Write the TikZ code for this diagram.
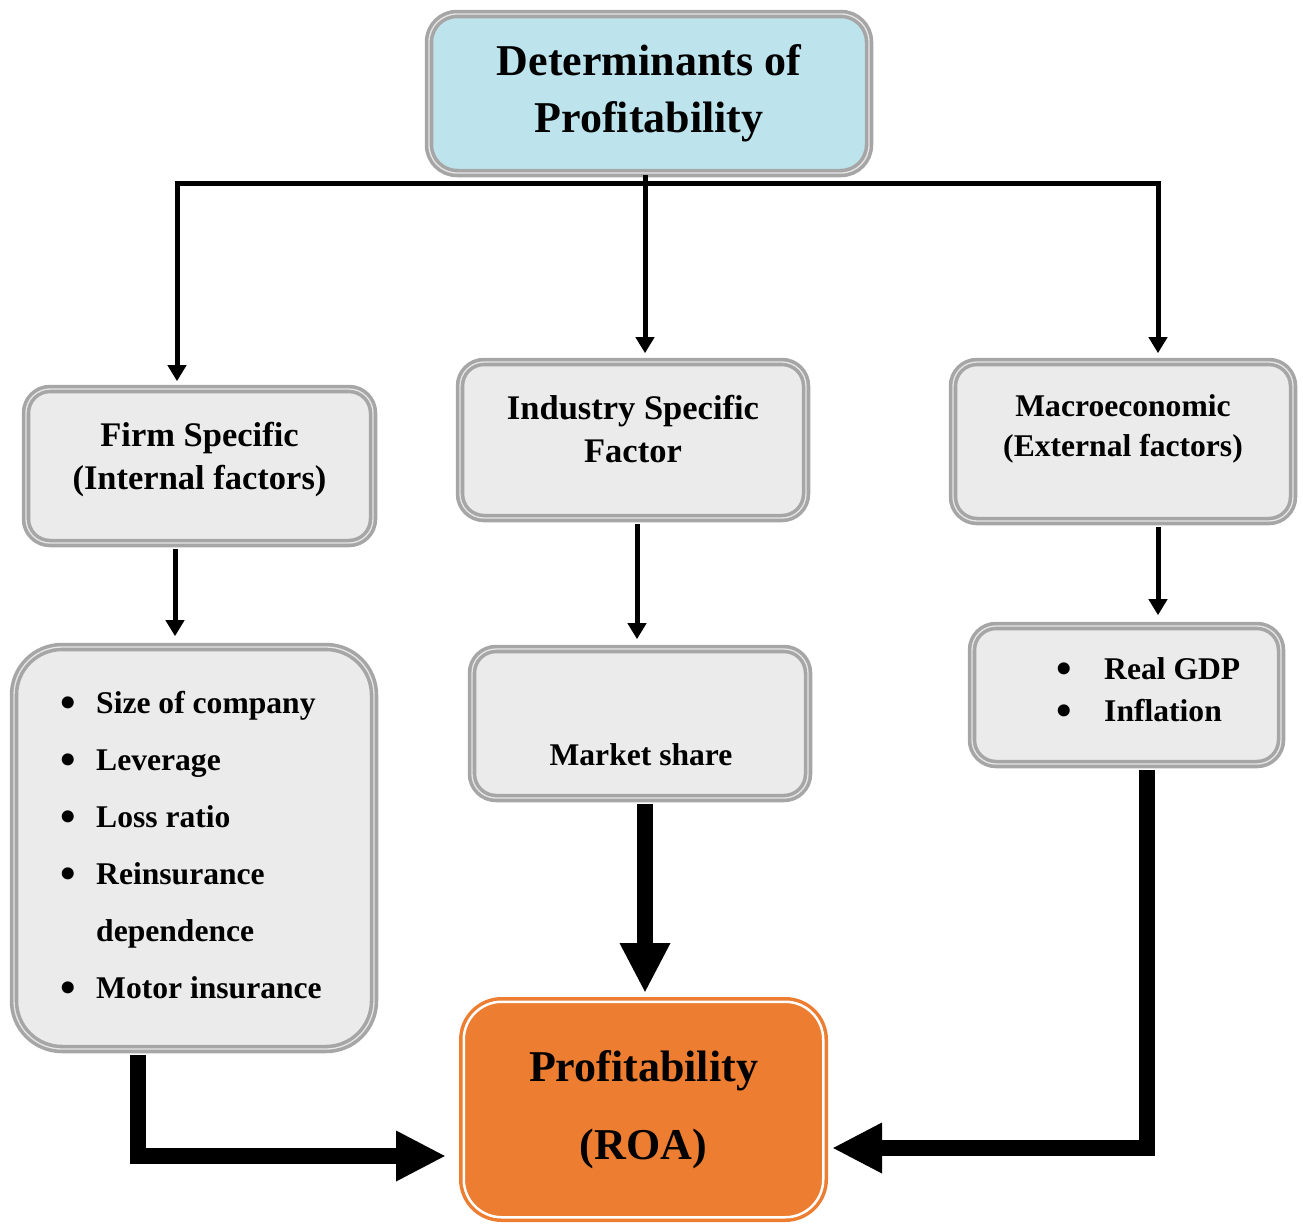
\documentclass[tikz,border=0pt]{standalone}
\usepackage{fontspec}
\setmainfont{Liberation Serif}
\usetikzlibrary{arrows.meta}
\definecolor{frame}{HTML}{A6A6A6}
\definecolor{frameline}{HTML}{E6E6E6}
\definecolor{marble}{HTML}{EBEBEB}
\definecolor{water}{HTML}{BDE4ED}
\definecolor{roa}{HTML}{ED7D31}
\newcommand\itembul[1][36pt]{\makebox[#1][l]{\raisebox{-0.11em}{\scalebox{1.4}{\textbullet}}}}
\begin{document}
\begin{tikzpicture}[x=1pt,y=-1pt,
  box/.style={draw=frame, line width=3.6pt, double=frameline, double distance=1.3pt, fill=marble, rounded corners=24pt, inner sep=0pt},
  head/.style={align=center, inner sep=0pt, font=\bfseries\fontsize{34.5}{43}\selectfont},
  items/.style={align=left, inner sep=0pt, anchor=west, font=\bfseries\fontsize{31.6}{57}\selectfont},
  link/.style={line width=5pt, -{Triangle[length=16pt,width=18pt]}},
  bigarrow/.style={line width=16pt, -{Triangle[length=50pt,width=47pt]}}]
\useasboundingbox (0,0) rectangle (1303,1226);
\node[box, fill=water, rounded corners=28pt, minimum width=440pt, minimum height=159pt, align=center, font=\bfseries\fontsize{44}{57}\selectfont] (top) at (649,93.5) {Determinants of\\Profitability};
\node[box, minimum width=347pt, minimum height=154pt] (firm) at (199.5,466) {};
\node[head] (firmtxt) at (199.5,459.6) {Firm Specific\\(Internal factors)};
\node[box, minimum width=346pt, minimum height=156pt] (industry) at (633,440) {};
\node[head] (industrytxt) at (633,429) {Industry Specific\\Factor};
\node[box, minimum width=340pt, minimum height=159pt] (macro) at (1123,441.5) {};
\node[head, font=\bfseries\fontsize{31.6}{40}\selectfont] (macrotxt) at (1123,428.6) {Macroeconomic\\(External factors)};
\node[box, rounded corners=48pt, minimum width=360pt, minimum height=402pt] (firmlist) at (194,848) {};
\node[items] (firmitems) at (60,847) {\itembul Size of company\\\itembul Leverage\\\itembul Loss ratio\\\itembul Reinsurance\\\hspace*{36pt}dependence\\\itembul Motor insurance};
\node[box, minimum width=336pt, minimum height=149pt] (market) at (640,723.5) {};
\node[head, font=\bfseries\fontsize{31.6}{40}\selectfont] (markettxt) at (641,754.5) {Market share};
\node[box, minimum width=309pt, minimum height=138pt] (gdp) at (1126.5,695) {};
\node[items, font=\bfseries\fontsize{31.6}{42}\selectfont] (gdpitems) at (1056,691.5) {\itembul[48pt]Real GDP\\\itembul[48pt]Inflation};
\node[draw=roa, line width=3.5pt, double=white, double distance=2.5pt, fill=roa, rounded corners=38pt, minimum width=359.5pt, minimum height=215.5pt, align=center, font=\bfseries\fontsize{44}{78}\selectfont] (profit) at (643.5,1109.5) {Profitability\\(ROA)};
\coordinate (fork) at (645,183);
\draw[line width=5pt] ([xshift=-4pt]top.south) -- (fork);
\draw[link, shorten >=6pt] (fork) -| ([xshift=-22.5pt]firm.north);
\draw[link, shorten >=7pt] (fork) -- ([xshift=12pt]industry.north);
\draw[link, shorten >=7pt] (fork) -| ([xshift=35pt]macro.north);
\draw[link, shorten <=4pt, shorten >=9pt] ([xshift=-24.5pt]firm.south) -- ([xshift=-19pt]firmlist.north);
\draw[link, shorten <=4pt, shorten >=8pt] ([xshift=4pt]industry.south) -- ([xshift=-3pt]market.north);
\draw[link, shorten <=4pt, shorten >=9pt] ([xshift=35pt]macro.south) -- ([xshift=31.5pt]gdp.north);
\draw[bigarrow, shorten <=4pt, shorten >=7pt] ([xshift=5pt]market.south) -- ([xshift=1.5pt]profit.north);
\draw[bigarrow, shorten <=4pt, shorten >=16pt] ([xshift=-56.5pt]firmlist.south) |- ([yshift=-46.5pt]profit.west);
\draw[bigarrow, shorten <=4pt, shorten >=7pt] ([xshift=20.5pt]gdp.south) |- ([yshift=-38.5pt]profit.east);
\end{tikzpicture}
\end{document}
